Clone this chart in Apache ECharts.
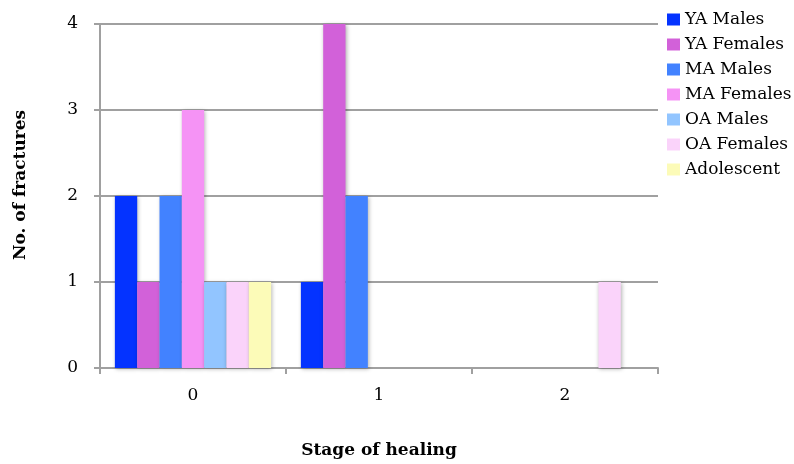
<!DOCTYPE html>
<html><head><meta charset="utf-8">
<script src="https://cdn.jsdelivr.net/npm/echarts@6/dist/echarts.min.js"></script>
<style>html,body{margin:0;padding:0;background:#fff}#c{width:794px;height:464px}</style>
</head><body><div id="c"></div>
<script>
const categories = ['0', '1', '2'];
const seriesNames = ['YA Males', 'YA Females', 'MA Males', 'MA Females', 'OA Males', 'OA Females', 'Adolescent'];
const YA_Males = [2, 1, 0];
const YA_Females = [1, 4, 0];
const MA_Males = [2, 2, 0];
const MA_Females = [3, 0, 0];
const OA_Males = [1, 0, 0];
const OA_Females = [1, 0, 1];
const Adolescent = [1, 0, 0];
const yTicks = [0, 1, 2, 3, 4];
const colors = ['#0433FF', '#D261D9', '#4282FF', '#F593F5', '#92C5FF', '#FAD3FA', '#FCFBB8'];
const values = [YA_Males, YA_Females, MA_Males, MA_Females, OA_Males, OA_Females, Adolescent];
const FONT = 'DejaVu Serif';
const chart = echarts.init(document.getElementById('c'), null, {renderer: 'canvas'});
chart.setOption({
  animation: false,
  color: colors,
  textStyle: {fontFamily: FONT},
  grid: {left: 100, right: 136, top: 24, bottom: 96, containLabel: false, outerBoundsMode: 'none'},
  legend: {
    orient: 'vertical', left: 667, top: 11, padding: 0,
    itemWidth: 13, itemHeight: 12, itemGap: 8,
    icon: 'rect',
    textStyle: {fontFamily: FONT, fontSize: 17, lineHeight: 16, color: '#000', padding: [0, 0, 0, 0]},
    data: seriesNames
  },
  xAxis: {
    type: 'category', data: categories,
    name: 'Stage of healing', nameLocation: 'middle', nameGap: 74,
    nameTextStyle: {fontFamily: FONT, fontWeight: 'bold', fontSize: 17, color: '#000'},
    axisLine: {lineStyle: {color: '#a0a0a0', width: 2}},
    axisTick: {show: true, length: 6, lineStyle: {color: '#a0a0a0', width: 2}},
    axisLabel: {fontFamily: FONT, fontSize: 17, color: '#000', margin: 19}
  },
  yAxis: {
    type: 'value', min: 0, max: 4, interval: 1,
    name: 'No. of fractures', nameLocation: 'middle', nameGap: 71, nameRotate: 90,
    nameTextStyle: {fontFamily: FONT, fontWeight: 'bold', fontSize: 17, color: '#000', padding: [0, 0, 0, 22]},
    axisLine: {show: true, lineStyle: {color: '#a0a0a0', width: 2}},
    axisTick: {show: true, length: 6, lineStyle: {color: '#a0a0a0', width: 2}},
    splitLine: {lineStyle: {color: '#a0a0a0', width: 2}},
    axisLabel: {fontFamily: FONT, fontSize: 17, color: '#000', margin: 22,
      formatter: v => yTicks.includes(v) ? String(v) : ''}
  },
  series: seriesNames.map((n, i) => ({
    name: n, type: 'bar', data: values[i],
    barGap: '0%', barCategoryGap: '16%',
    itemStyle: {color: colors[i], shadowBlur: 4, shadowColor: 'rgba(0,0,0,0.3)', shadowOffsetX: 1, shadowOffsetY: 1}
  }))
});
</script></body></html>
